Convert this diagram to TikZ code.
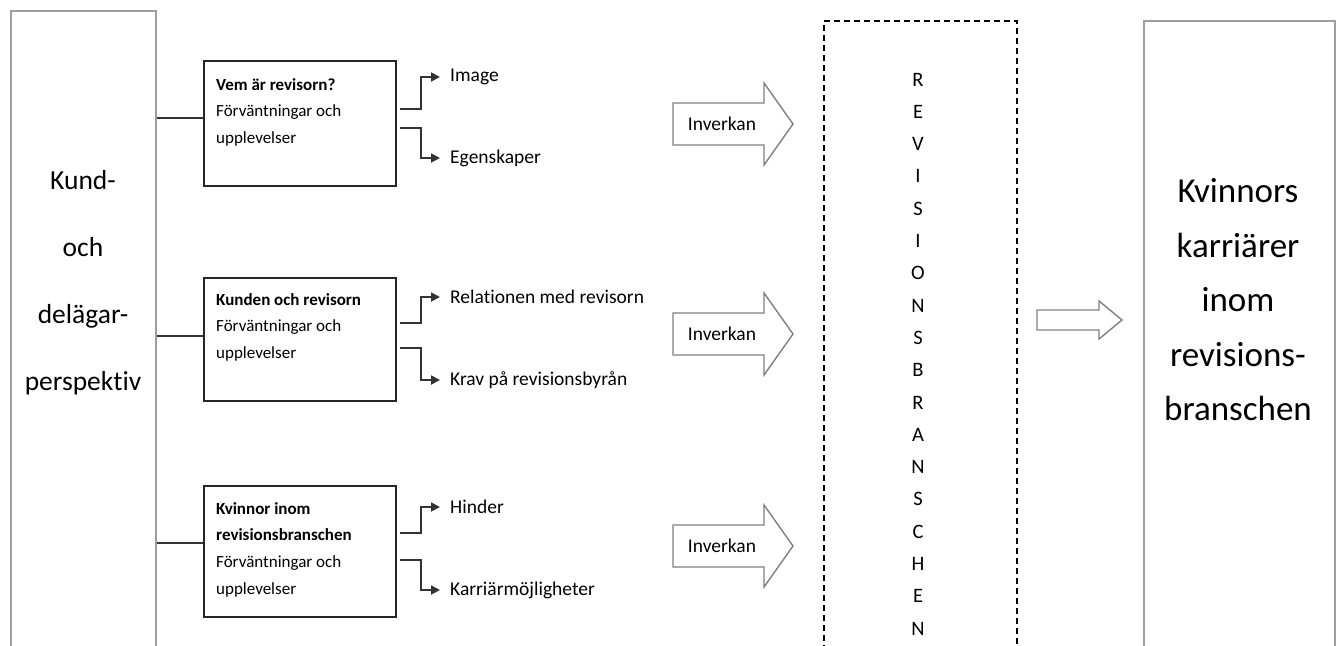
\documentclass[tikz,border=0pt]{standalone}
\usepackage{fontspec}
\setmainfont{Carlito}[Ligatures=NoCommon]
\usetikzlibrary{arrows.meta}
\begin{document}
\begin{tikzpicture}[x=1pt,y=-1pt,
  wall/.style={draw=black!38, line width=1.6pt, inner sep=0pt},
  topic/.style={draw=black!85, line width=1.8pt, inner sep=0pt, minimum width=192pt, anchor=north west},
  topictext/.style={anchor=north west, inner sep=0pt, align=left, font=\fontsize{17}{26.8}\selectfont},
  link/.style={draw=black!80, line width=1.8pt},
  feed/.style={link, -{Triangle[length=9pt,width=9pt]}},
  outcome/.style={anchor=west, inner xsep=10pt, inner ysep=0pt, font=\fontsize{19.5}{23}\selectfont},
  blockarrow/.style={draw=black!50, line width=1.4pt, fill=white, line join=miter},
  arrowtext/.style={inner sep=0pt, font=\fontsize{19.5}{23}\selectfont}
]
\useasboundingbox (0,0) rectangle (1340,645);

% outer frames, open at the lower page edge
\node[wall, anchor=north west, minimum width=145pt, minimum height=660pt] (kund) at (10,10) {};
\node[align=center, inner sep=0pt, font=\fontsize{27.5}{67}\selectfont] (kundtext) at (83,283)
  {Kund-\\och\\delägar-\\perspektiv};

\node[draw=black, dash pattern=on 6pt off 4pt, line width=1.5pt, anchor=north west,
      minimum width=193pt, minimum height=660pt, inner sep=0pt] (bransch) at (823,20) {};
\node[align=center, inner sep=0pt, font=\fontsize{20.5}{32.3}\selectfont] (branschtext) at (918,354)
  {R\\E\\V\\I\\S\\I\\O\\N\\S\\B\\R\\A\\N\\S\\C\\H\\E\\N};

\node[wall, anchor=north west, minimum width=191pt, minimum height=660pt] (karriar) at (1143,20) {};
\node[align=center, inner sep=0pt, font=\fontsize{35}{54.5}\selectfont] (karriartext) at (1238,300)
  {Kvinnors\\karriärer\\inom\\revisions-\\branschen};

% the three topic boxes
\node[topic, minimum height=125pt] (b1) at (203,60) {};
\node[topictext] (t1) at (216,78) {\textbf{Vem är revisorn?}\\Förväntningar och\\upplevelser};
\node[topic, minimum height=123pt] (b2) at (203,277) {};
\node[topictext] (t2) at (216,293) {\textbf{Kunden och revisorn}\\Förväntningar och\\upplevelser};
\node[topic, minimum height=131pt] (b3) at (203,485) {};
\node[topictext] (t3) at (216,502) {\textbf{Kvinnor inom}\\\textbf{revisionsbranschen}\\Förväntningar och\\upplevelser};

% lines from the perspective frame
\coordinate (l1) at ([yshift=5.5pt]b1.west);
\coordinate (l2) at ([yshift=3.5pt]b2.west);
\coordinate (l3) at ([yshift=8.5pt]b3.west);
\draw[link] (kund.east |- l1) -- (l1);
\draw[link] (kund.east |- l2) -- (l2);
\draw[link] (kund.east |- l3) -- (l3);

% outcome labels
\node[outcome] (img) at (440,77) {Image};
\node[outcome] (egen) at (440,158) {Egenskaper};
\node[outcome] (rel) at (440,297) {Relationen med revisorn};
\node[outcome] (krav) at (440,380) {Krav på revisionsbyrån};
\node[outcome] (hind) at (440,507) {Hinder};
\node[outcome] (karr) at (440,590) {Karriärmöjligheter};

% elbow connectors
\coordinate (o1a) at ([xshift=3pt,yshift=14.5pt]b1.east);
\coordinate (o1b) at ([xshift=3pt,yshift=-4.5pt]b1.east);
\coordinate (o2a) at ([xshift=3pt,yshift=16.5pt]b2.east);
\coordinate (o2b) at ([xshift=3pt,yshift=-8.5pt]b2.east);
\coordinate (o3a) at ([xshift=3pt,yshift=18.5pt]b3.east);
\coordinate (o3b) at ([xshift=3pt,yshift=-8.5pt]b3.east);
\draw[feed] (o1a) -- ++(21,0) |- (img.west);
\draw[feed] (o1b) -- ++(21,0) |- (egen.west);
\draw[feed] (o2a) -- ++(21,0) |- (rel.west);
\draw[feed] (o2b) -- ++(21,0) |- (krav.west);
\draw[feed] (o3a) -- ++(21,0) |- (hind.west);
\draw[feed] (o3b) -- ++(21,0) |- (karr.west);

% block arrows
\foreach \c/\n in {124/1,334/2,546/3}{
  \draw[blockarrow] (673,\c-21) -- (764,\c-21) -- (764,\c-41) -- (793,\c)
    -- (764,\c+41) -- (764,\c+21) -- (673,\c+21) -- cycle;
  \node[arrowtext] (inv\n) at (722,\c) {Inverkan};
}
\draw[blockarrow] (1037,310) -- (1099,310) -- (1099,301) -- (1122,320)
  -- (1099,339) -- (1099,330) -- (1037,330) -- cycle;
\end{tikzpicture}
\end{document}
